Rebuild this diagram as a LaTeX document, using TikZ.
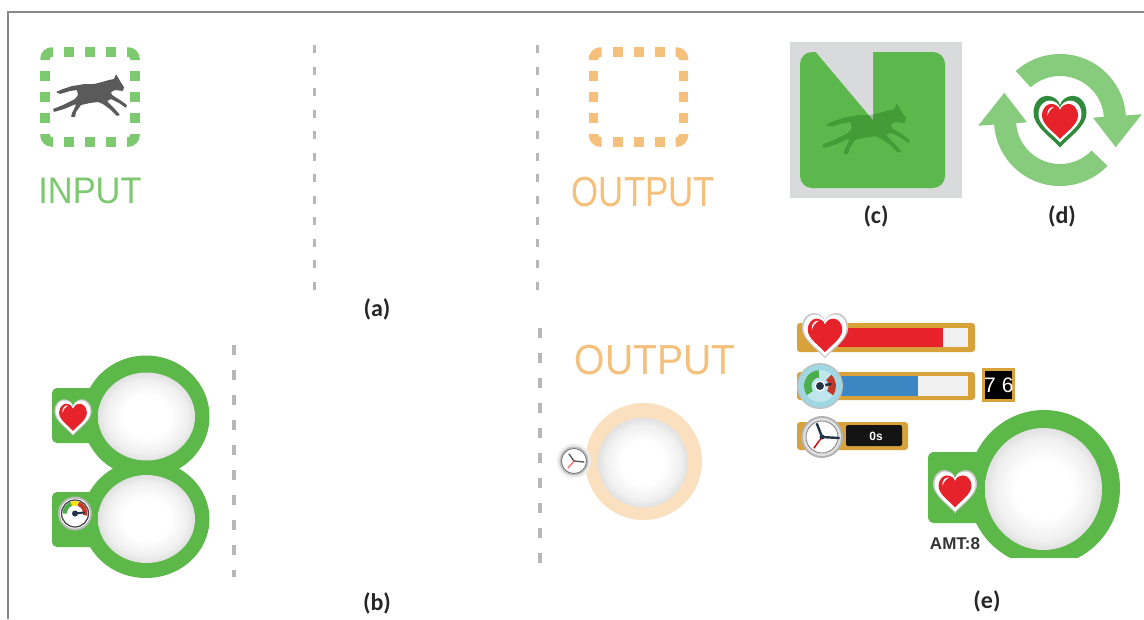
\documentclass[tikz,border=0pt]{standalone}
\usepackage{fontspec}
\usepackage{graphicx}
\setmainfont{Liberation Sans}
\newfontfamily\labelfont{Carlito}

\definecolor{ingreen}{HTML}{7CC970}
\definecolor{outorange}{HTML}{F5C07C}
\definecolor{dashgray}{HTML}{B7B7B7}
\definecolor{ringgreen}{HTML}{5DB84A}
\definecolor{ringpeach}{HTML}{FBE0BF}
\definecolor{cgrey}{HTML}{D9DADB}
\definecolor{cgreen}{HTML}{5CB84C}
\definecolor{arrowgreen}{HTML}{86CC7C}
\definecolor{heartred}{HTML}{E6232A}
\definecolor{darkgreen}{HTML}{2F8A3C}
\definecolor{gold}{HTML}{D8A23A}
\definecolor{barblue}{HTML}{3C86C4}
\definecolor{framegray}{HTML}{888888}
\definecolor{horsegray}{HTML}{5A5A5A}
\definecolor{gaugecyan}{HTML}{9FD7E3}
\definecolor{gaugeface}{HTML}{BFE6EE}
\definecolor{gaugegreen}{HTML}{4CAE4C}
\definecolor{gaugered}{HTML}{C0392B}
\definecolor{navy}{HTML}{253445}

\pgfdeclareradialshading{lens}{\pgfpoint{0bp}{0bp}}{color(0bp)=(white); color(12bp)=(white); color(21bp)=(gray!12); color(25bp)=(gray!24); color(50bp)=(gray!24)}

\tikzset{
  caplabel/.style={font=\labelfont\bfseries\fontsize{24}{24}\selectfont, text=black!85, inner sep=0pt},
  bigword/.style={font=\fontsize{42}{42}\selectfont, inner sep=0pt},
  vdash/.style={dashgray, line width=3pt, dash pattern=on 8pt off 13.5pt},
  vdashlow/.style={dashgray, line width=3.5pt, dash pattern=on 10pt off 15pt},
  % unit heart outline (y grows downwards)
  heartpath/.style={insert path={(0,1) .. controls (-0.35,0.6) and (-1,0.2) .. (-1,-0.3)
      .. controls (-1,-0.75) and (-0.7,-0.95) .. (-0.5,-0.95)
      .. controls (-0.25,-0.95) and (-0.05,-0.8) .. (0,-0.6)
      .. controls (0.05,-0.8) and (0.25,-0.95) .. (0.5,-0.95)
      .. controls (0.7,-0.95) and (1,-0.75) .. (1,-0.3)
      .. controls (1,0.2) and (0.35,0.6) .. (0,1) -- cycle}},
  % dotted frame with solid rounded corners
  dashframe/.pic={
    \begin{scope}[line width=9.5pt]
      \path[pic actions, rounded corners=7pt] (-45,-37) -- (-45,-45) -- (-37,-45);
      \path[pic actions, rounded corners=7pt] (37,-45) -- (45,-45) -- (45,-37);
      \path[pic actions, rounded corners=7pt] (45,37) -- (45,45) -- (37,45);
      \path[pic actions, rounded corners=7pt] (-37,45) -- (-45,45) -- (-45,37);
      \path[pic actions] (-26,-45) -- (-16,-45) (-5,-45) -- (5,-45) (16,-45) -- (26,-45)
                         (-26,45) -- (-16,45) (-5,45) -- (5,45) (16,45) -- (26,45)
                         (-45,-26) -- (-45,-16) (-45,-5) -- (-45,5) (-45,16) -- (-45,26)
                         (45,-26) -- (45,-16) (45,-5) -- (45,5) (45,16) -- (45,26);
    \end{scope}
  },
  % galloping horse silhouette
  horse/.pic={
    \path[pic actions, rounded corners=0.7pt]
      (34,-8) -- (30,-14) -- (26,-21) -- (24,-16) -- (19,-15) -- (12,-13)
      -- (4,-11) -- (-6,-11) -- (-11,-10) -- (-18,-9) -- (-27,-6) -- (-34,-3)
      -- (-30,-1) -- (-20,-4) -- (-13,-5) -- (-12,0) -- (-15,4) -- (-27,10)
      -- (-37,14) -- (-36,17) -- (-26,14) -- (-14,9) -- (-15,12) -- (-18,18)
      -- (-19,22) -- (-15,22) -- (-14,17) -- (-9,10) -- (0,8) -- (8,7)
      -- (13,9) -- (21,15) -- (27,21) -- (30,20) -- (24,13) -- (17,6)
      -- (21,4) -- (29,8) -- (36,13) -- (37,10) -- (30,5) -- (22,0)
      -- (21,-3) -- (25,-5) -- (33,-4) -- cycle;
  },
  % glossy heart with white rim
  hearticon/.pic={
    \fill[black!22, scale=1.13] (0,0) [heartpath];
    \fill[white, scale=1.05] (0,0) [heartpath];
    \fill[heartred, scale=0.84] (0,0) [heartpath];
    \fill[white] (-0.64,-0.26) .. controls (-0.68,-0.56) and (-0.5,-0.7) .. (-0.3,-0.7)
      .. controls (-0.48,-0.6) and (-0.58,-0.46) .. (-0.64,-0.26) -- cycle;
  }
}

\begin{document}
\begin{tikzpicture}[x=1pt,y=-1pt]
\useasboundingbox (0,0) rectangle (1144,619);
\fill[white] (0,0) rectangle (1144,619);
\draw[framegray, line width=1.5pt] (1144,12) -- (8,12) -- (8,619);

% ---------- (a) ----------
\pic[draw=ingreen] at (90,97) {dashframe};
\pic[fill=horsegray] at (90,95) {horse};
\node[bigword, text=ingreen, font=\fontsize{37}{37}\selectfont] (input) at (90,191) {\scalebox{0.93}[1]{INPUT}};
\draw[vdash] (314,45) -- (314,292);
\draw[vdash] (537,45) -- (537,292);
\pic[draw=outorange] at (638.5,97) {dashframe};
\node[bigword, text=outorange] (outputa) at (643.5,192) {\scalebox{0.83}[1]{OUTPUT}};
\node[caplabel] (lbla) at (377,309) {(a)};

% ---------- (c) ----------
\fill[cgrey] (790,42) rectangle (962,198);
\fill[cgreen, rounded corners=12pt] (800,52) rectangle (945,188);
\fill[cgrey] (815,51) -- (873,51) -- (873,120) -- cycle;
\pic[fill=black!70!green, fill opacity=0.25, scale=1.18] at (866,128) {horse};
\node[caplabel] (lblc) at (876,216) {(c)};

% ---------- (d) ----------
\begin{scope}[shift={(1060,120)}, yscale=-1]
  \fill[arrowgreen] (132:44) arc[start angle=132, end angle=4, radius=44] -- (4:33) -- (-26:62)
    -- (4:82) -- (4:66) arc[start angle=4, end angle=132, radius=66] -- cycle;
  \fill[arrowgreen] (-44:44) arc[start angle=-44, end angle=-176, radius=44] -- (-176:33) -- (-206:62)
    -- (-176:82) -- (-176:66) arc[start angle=-176, end angle=-44, radius=66] -- cycle;
\end{scope}
\begin{scope}[shift={(1060,121)}]
  \fill[darkgreen, scale=26.5] (0,0) [heartpath];
  \fill[white, scale=21.5] (0,0) [heartpath];
  \fill[heartred, scale=18] (0,0) [heartpath];
  \fill[white, scale=18] (-0.7,-0.3) .. controls (-0.74,-0.62) and (-0.55,-0.78) .. (-0.33,-0.78)
    .. controls (-0.53,-0.66) and (-0.63,-0.52) .. (-0.7,-0.3) -- cycle;
\end{scope}
\node[caplabel] (lbld) at (1062,216) {(d)};

% ---------- (b) ----------
\draw[vdashlow] (234,345) -- (234,577);
\fill[ringgreen] (146,416.5) ellipse [x radius=63.5, y radius=61];
\fill[ringgreen] (146,519) ellipse [x radius=63.5, y radius=59];
\fill[ringgreen, rounded corners=5pt] (52,388) rectangle (120,443);
\fill[ringgreen, rounded corners=5pt] (52,492) rectangle (120,547);
\shade[shading=lens] (146.5,416.5) ellipse [x radius=48.5, y radius=44];
\shade[shading=lens] (146.5,519) ellipse [x radius=48.5, y radius=44];
\pic[scale=16.5] at (73,417) {hearticon};
% small gauge
\begin{scope}[shift={(75,513.5)}, yscale=-1]
  \fill[black!28] (0,0) circle[radius=17];
  \fill[white] (0,0) circle[radius=15];
  \draw[black!75, line width=1.2pt] (0,0) circle[radius=13.5];
  \fill[gaugegreen] (0,0) -- (180:12.5) arc[start angle=180, end angle=110, radius=12.5] -- cycle;
  \fill[yellow!85!orange] (0,0) -- (110:12.5) arc[start angle=110, end angle=70, radius=12.5] -- cycle;
  \fill[gaugered] (0,0) -- (70:12.5) arc[start angle=70, end angle=-10, radius=12.5] -- cycle;
  \fill[white] (0,0) circle[radius=8];
  \draw[navy, line width=2pt, line cap=round] (0,0) -- (9,1);
  \fill[navy] (0,0) circle[radius=3];
\end{scope}
\node[caplabel] (lblb) at (377,603) {(b)};

% ---------- output with timer ----------
\draw[vdashlow] (540,328) -- (540,577);
\node[bigword, text=outorange] (outputb) at (655,360) {\scalebox{0.93}[1]{OUTPUT}};
\fill[ringpeach] (643.5,461.5) circle[radius=58.5];
\shade[shading=lens] (643,462.5) circle[radius=45];
\fill[black!7] (574,461) circle[radius=17];
\fill[black!25] (574,461) circle[radius=14.5];
\fill[white] (574,461) circle[radius=12.5];
\draw[black!55, line width=0.8pt] (574,461) circle[radius=12.5];
\draw[black!65, line width=1.4pt, line cap=round] (574,461) -- (569,454) (574,461) -- (584,462);
\draw[red!70, line width=1pt, line cap=round] (574,461) -- (568,468);

% ---------- (e) ----------
% health bar
\fill[gold, rounded corners=3pt] (797,323) rectangle (975,352);
\fill[heartred] (838,328) rectangle (943,347);
\fill[gray!12] (943,328) rectangle (968,347);
\pic[scale=20.5] at (825,335) {hearticon};
% energy bar
\fill[gold, rounded corners=3pt] (797,372) rectangle (975,400);
\fill[barblue] (840,376) rectangle (918,396);
\fill[gray!12] (918,376) rectangle (968,396);
\begin{scope}[shift={(820,386)}, yscale=-1]
  \fill[black!25] (0,0) circle[radius=23];
  \fill[gaugecyan] (0,0) circle[radius=21.5];
  \fill[gaugeface] (0,0) circle[radius=16];
  \fill[gaugegreen] (0,0) -- (95:16) arc[start angle=95, end angle=215, radius=16] -- cycle;
  \fill[gaugered] (0,0) -- (-35:16) arc[start angle=-35, end angle=45, radius=16] -- cycle;
  \fill[gaugeface] (0,0) circle[radius=8.5];
  \draw[navy, line width=2.5pt, line cap=round] (0,0) -- (11,2);
  \fill[white] (0,0) circle[radius=5.5];
  \fill[navy] (0,0) circle[radius=4];
\end{scope}
% counter box
\fill[gold] (982,368) rectangle (1015,402);
\fill[black] (985,371) rectangle (1012,399);
\begin{scope}
  \clip (985,371) rectangle (1012,399);
  \node[text=white, font=\fontsize{21}{21}\selectfont, inner sep=0pt, anchor=west] (counter) at (984,385) {7\hspace{6pt}6};
\end{scope}
% timer bar
\fill[gold, rounded corners=3pt] (797,422) rectangle (908,450);
\fill[black!92, rounded corners=2pt] (846,425) rectangle (902,446);
\node[text=white, font=\bfseries\fontsize{12}{12}\selectfont, inner sep=0pt] (timer) at (876,436) {0s};
\fill[black!30] (822,437) circle[radius=21];
\fill[black!12] (822,437) circle[radius=19];
\fill[white] (822,437) circle[radius=16];
\draw[black!50, line width=0.8pt] (822,437) circle[radius=16];
\draw[navy, line width=2.4pt, line cap=round] (822,437) -- (817,424) (822,437) -- (839,438);
\draw[red!80!black, line width=1.4pt, line cap=round] (822,437) -- (814,448);
\fill[navy] (822,437) circle[radius=2.5];
% resource slot
\begin{scope}
  \clip (900,300) rectangle (1144,557);
  \fill[ringgreen] (1044,488) ellipse [x radius=76, y radius=78];
  \fill[ringgreen, rounded corners=6pt] (928,452) rectangle (1010,523);
\end{scope}
\shade[shading=lens] (1043.5,489) ellipse [x radius=58.5, y radius=61];
\pic[scale=19.5] at (955,491) {hearticon};
\node[text=black!80, font=\bfseries\fontsize{17}{17}\selectfont, inner sep=0pt] (amt) at (955,544) {AMT:8};
\node[caplabel] (lble) at (987,601) {(e)};
\end{tikzpicture}
\end{document}
